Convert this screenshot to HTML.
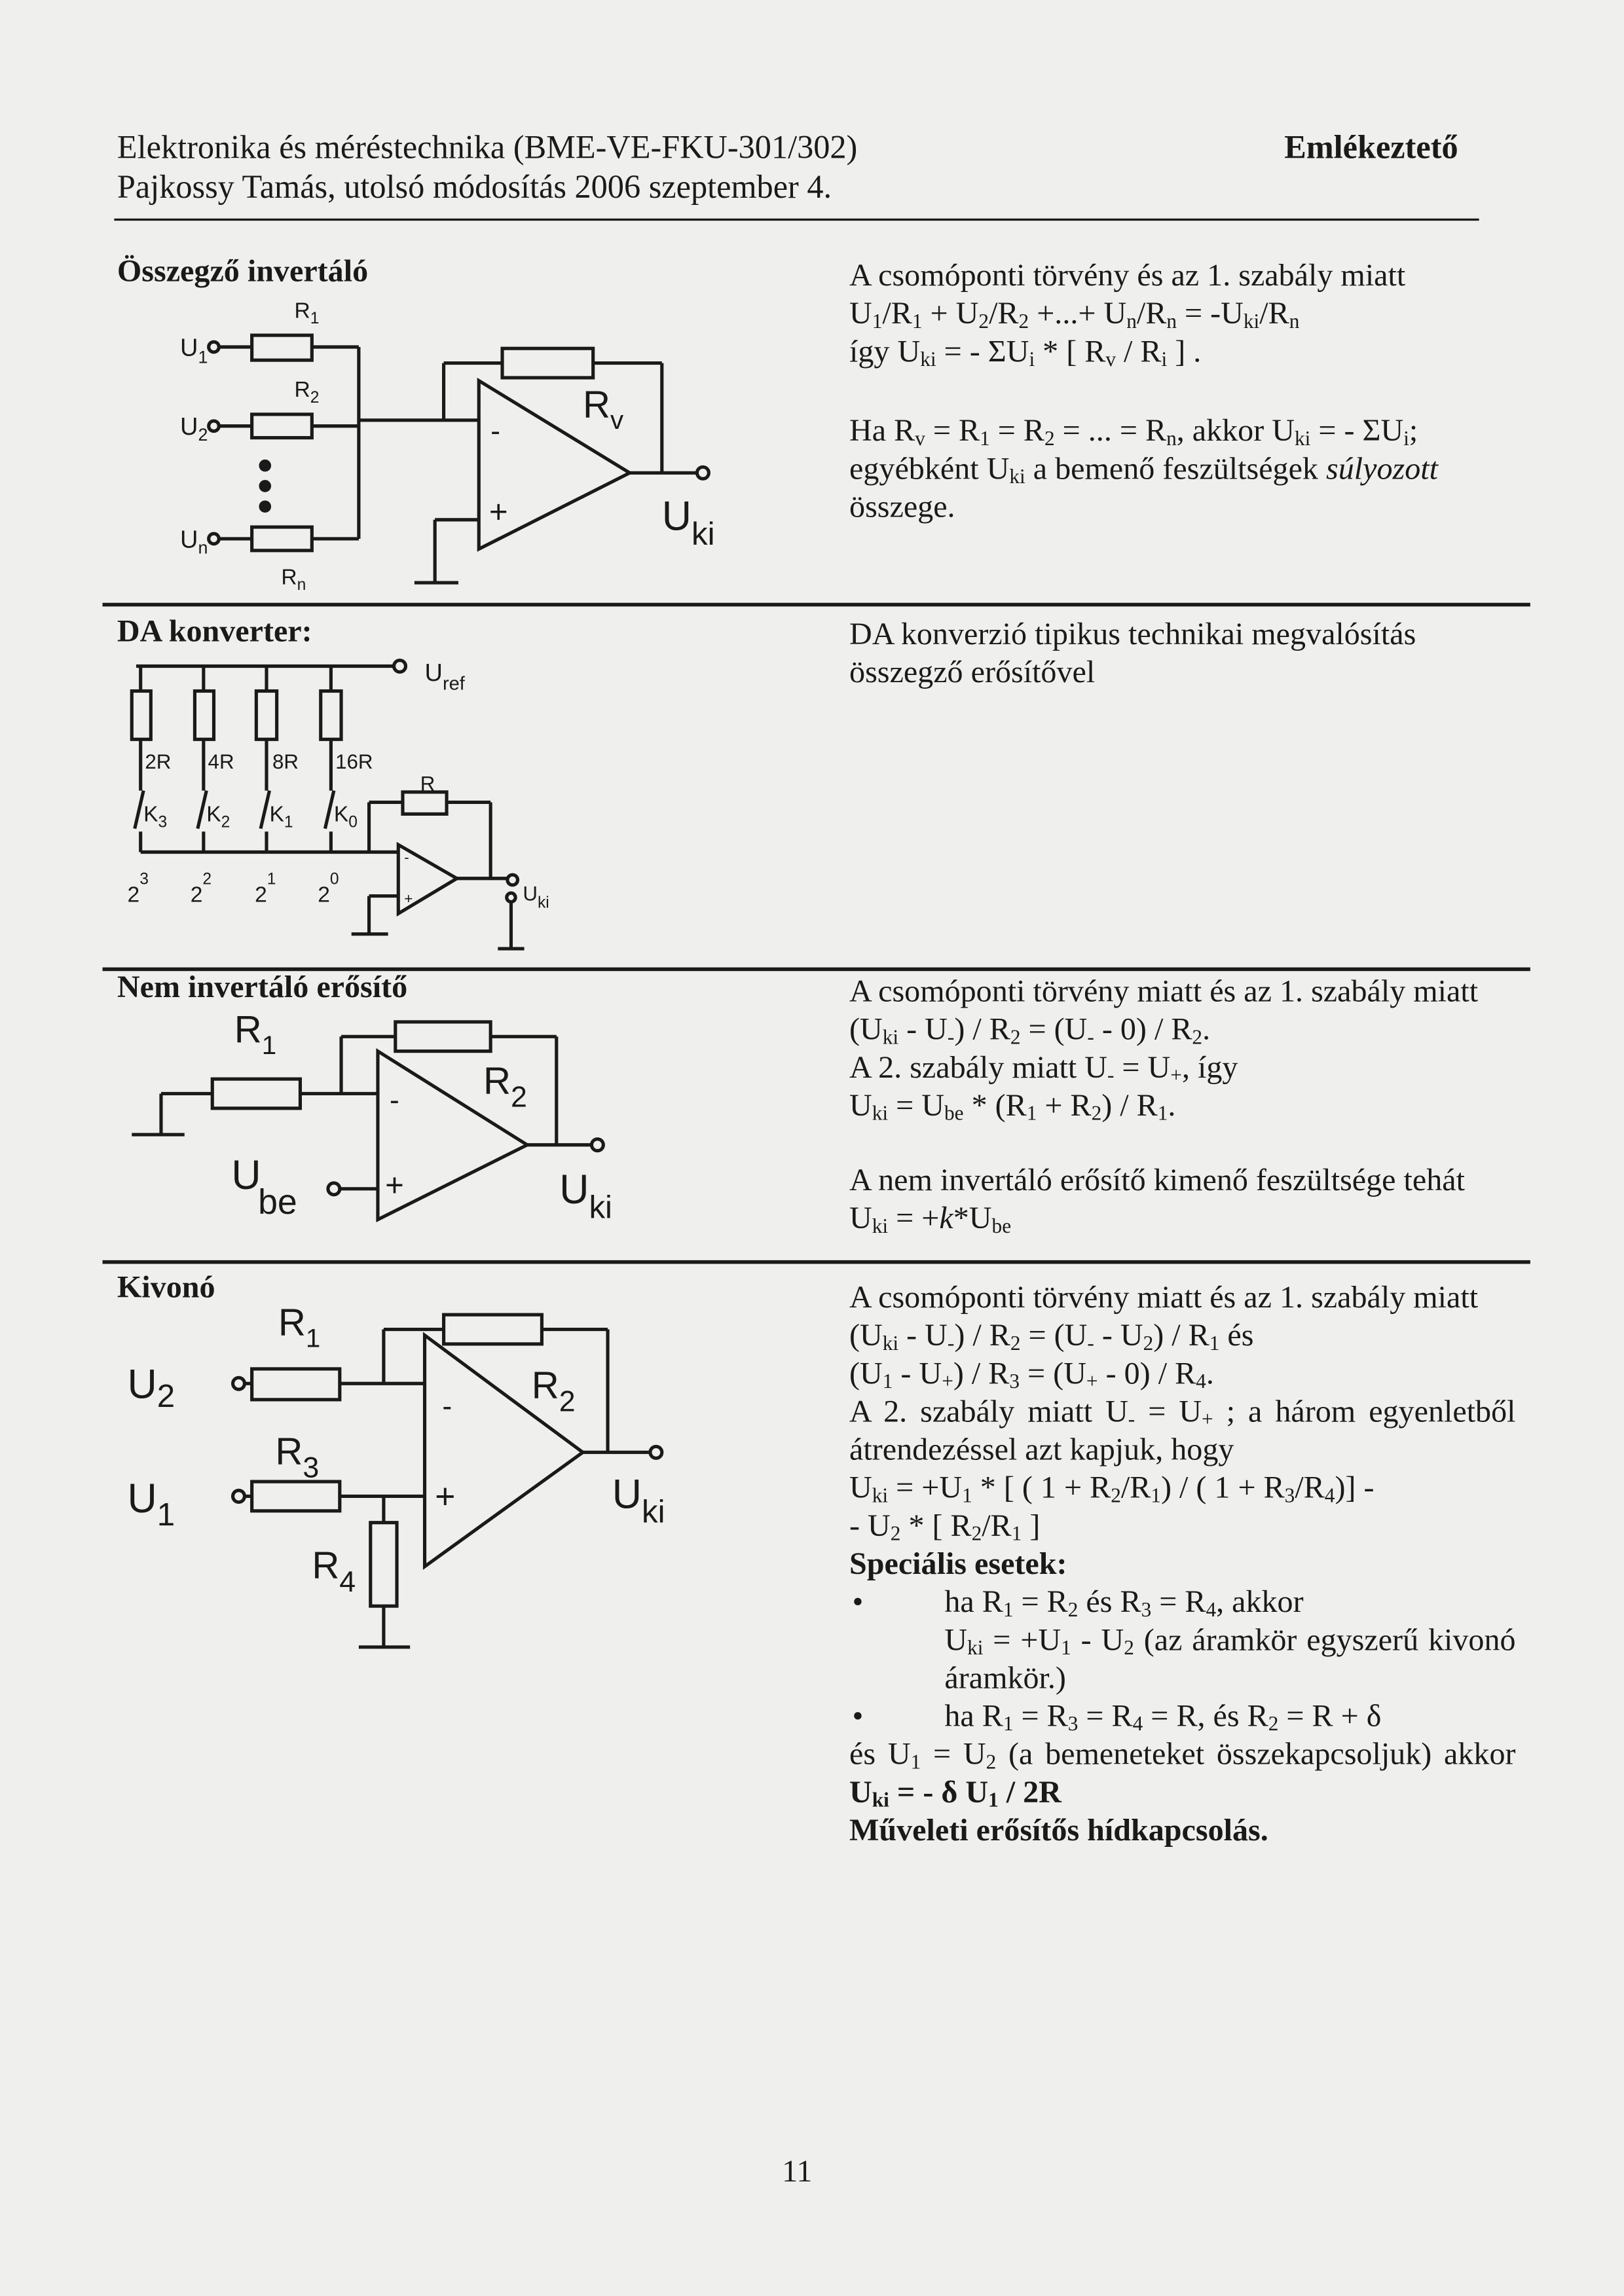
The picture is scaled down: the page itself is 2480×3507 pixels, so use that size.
<!DOCTYPE html>
<html><head><meta charset="utf-8">
<style>
html,body{margin:0;padding:0;background:#efefed;}
#pg{position:relative;width:2480px;height:3507px;overflow:hidden;background:#efefed;}
#c{position:absolute;left:0;top:0;width:1109px;height:1568px;transform:scale(2.23625);transform-origin:0 0;}
.t{position:absolute;font-family:"Liberation Serif",serif;font-size:21.5px;line-height:22px;white-space:nowrap;color:#1a1a1a;}
.t sub{font-size:14px;vertical-align:-3px;line-height:0;}
.b{font-weight:bold;}
.j{text-align:justify;text-align-last:justify;white-space:normal;}
svg{position:absolute;left:0;top:0;}
svg text{font-family:"Liberation Sans",sans-serif;fill:#1a1a1a;}
</style></head><body><div id="pg"><div id="c">

<svg width="1109" height="1568" viewBox="0 0 1109 1568" fill="none" stroke="#1a1a1a" stroke-width="2.3">
<line x1="78" y1="150" x2="1010" y2="150" stroke-width="1.5"/>
<line x1="70" y1="413" x2="1045" y2="413" stroke-width="2.5"/>
<line x1="70" y1="662" x2="1045" y2="662" stroke-width="2.5"/>
<line x1="70" y1="862" x2="1045" y2="862" stroke-width="2.5"/>

<!-- Circuit 1 -->
<circle cx="146" cy="237" r="3.5"/><line x1="150" y1="237" x2="172" y2="237"/>
<rect x="172" y="229" width="41" height="17"/><line x1="213" y1="237" x2="245" y2="237"/>
<circle cx="146" cy="291" r="3.5"/><line x1="150" y1="291" x2="172" y2="291"/>
<rect x="172" y="283" width="41" height="16"/><line x1="213" y1="291" x2="245" y2="291"/>
<circle cx="146" cy="368" r="3.5"/><line x1="150" y1="368" x2="172" y2="368"/>
<rect x="172" y="360" width="41" height="16"/><line x1="213" y1="368" x2="245" y2="368"/>
<line x1="245" y1="237" x2="245" y2="368"/>
<circle cx="181" cy="318" r="3" fill="#1a1a1a"/><circle cx="181" cy="332" r="3" fill="#1a1a1a"/><circle cx="181" cy="346" r="3" fill="#1a1a1a"/>
<line x1="245" y1="287" x2="327" y2="287"/>
<polygon points="327,260 327,375 430,323"/>
<line x1="303" y1="287" x2="303" y2="248"/><line x1="303" y1="248" x2="343" y2="248"/>
<rect x="343" y="238" width="62" height="20"/>
<line x1="405" y1="248" x2="452" y2="248"/><line x1="452" y1="248" x2="452" y2="323"/>
<line x1="430" y1="323" x2="476" y2="323"/><circle cx="480" cy="323" r="4"/>
<line x1="327" y1="355" x2="297" y2="355"/><line x1="297" y1="355" x2="297" y2="398"/>
<line x1="283" y1="398" x2="313" y2="398"/>
<text x="335" y="301" font-size="20" stroke="none">-</text>
<text x="334" y="357" font-size="22" stroke="none">+</text>
<text x="201" y="217" font-size="15" stroke="none">R<tspan font-size="11" dy="4">1</tspan></text>
<text x="201" y="271" font-size="15" stroke="none">R<tspan font-size="11" dy="4">2</tspan></text>
<text x="192" y="399" font-size="15" stroke="none">R<tspan font-size="11" dy="4">n</tspan></text>
<text x="123" y="243" font-size="17" stroke="none">U<tspan font-size="12" dy="5">1</tspan></text>
<text x="123" y="297" font-size="17" stroke="none">U<tspan font-size="12" dy="4">2</tspan></text>
<text x="123" y="374" font-size="17" stroke="none">U<tspan font-size="12" dy="4">n</tspan></text>
<text x="398" y="285" font-size="26" stroke="none">R<tspan font-size="18" dy="8">v</tspan></text>
<text x="452" y="362" font-size="28" stroke="none">U<tspan font-size="22" dy="10">ki</tspan></text>

<!-- DA converter -->
<line x1="93" y1="455" x2="269" y2="455"/><circle cx="273" cy="455" r="4"/>
<g>
<line x1="96" y1="455" x2="96" y2="472"/><rect x="90" y="472" width="13" height="33"/><line x1="96" y1="505" x2="96" y2="540"/>
<line x1="92" y1="566" x2="98" y2="540"/><line x1="96" y1="568" x2="96" y2="582"/>
<line x1="139" y1="455" x2="139" y2="472"/><rect x="133" y="472" width="13" height="33"/><line x1="139" y1="505" x2="139" y2="540"/>
<line x1="135" y1="566" x2="141" y2="540"/><line x1="139" y1="568" x2="139" y2="582"/>
<line x1="182" y1="455" x2="182" y2="472"/><rect x="175" y="472" width="14" height="33"/><line x1="182" y1="505" x2="182" y2="540"/>
<line x1="178" y1="566" x2="184" y2="540"/><line x1="182" y1="568" x2="182" y2="582"/>
<line x1="226" y1="455" x2="226" y2="472"/><rect x="219" y="472" width="14" height="33"/><line x1="226" y1="505" x2="226" y2="540"/>
<line x1="222" y1="566" x2="228" y2="540"/><line x1="226" y1="568" x2="226" y2="582"/>
</g>
<line x1="96" y1="582" x2="272" y2="582"/>
<polygon points="272,577 272,624 312,600"/>
<line x1="252" y1="582" x2="252" y2="548"/><line x1="252" y1="548" x2="275" y2="548"/>
<rect x="275" y="541" width="30" height="15"/>
<line x1="305" y1="548" x2="335" y2="548"/><line x1="335" y1="548" x2="335" y2="600"/>
<line x1="312" y1="600" x2="346" y2="600"/><circle cx="350" cy="601" r="3.5"/>
<circle cx="349" cy="613" r="3"/><line x1="349" y1="616" x2="349" y2="648"/><line x1="340" y1="648" x2="358" y2="648"/>
<line x1="272" y1="612" x2="252" y2="612"/><line x1="252" y1="612" x2="252" y2="638"/><line x1="240" y1="638" x2="265" y2="638"/>
<text x="276" y="589" font-size="10" stroke="none">-</text>
<text x="276" y="617" font-size="10" stroke="none">+</text>
<text x="290" y="465" font-size="17" stroke="none">U<tspan font-size="13" dy="6">ref</tspan></text>
<text x="99" y="525" font-size="14" stroke="none">2R</text>
<text x="142" y="525" font-size="14" stroke="none">4R</text>
<text x="186" y="525" font-size="14" stroke="none">8R</text>
<text x="229" y="525" font-size="14" stroke="none">16R</text>
<text x="287" y="540" font-size="14" stroke="none">R</text>
<text x="98" y="561" font-size="15" stroke="none">K<tspan font-size="11" dy="4">3</tspan></text>
<text x="141" y="561" font-size="15" stroke="none">K<tspan font-size="11" dy="4">2</tspan></text>
<text x="184" y="561" font-size="15" stroke="none">K<tspan font-size="11" dy="4">1</tspan></text>
<text x="228" y="561" font-size="15" stroke="none">K<tspan font-size="11" dy="4">0</tspan></text>
<text x="87" y="616" font-size="15" stroke="none">2<tspan font-size="11" dy="-12">3</tspan></text>
<text x="130" y="616" font-size="15" stroke="none">2<tspan font-size="11" dy="-12">2</tspan></text>
<text x="174" y="616" font-size="15" stroke="none">2<tspan font-size="11" dy="-12">1</tspan></text>
<text x="217" y="616" font-size="15" stroke="none">2<tspan font-size="11" dy="-12">0</tspan></text>
<text x="357" y="615" font-size="14" stroke="none">U<tspan font-size="11" dy="5">ki</tspan></text>

<!-- Non-inverting -->
<line x1="110" y1="747" x2="145" y2="747"/><line x1="110" y1="747" x2="110" y2="775"/><line x1="90" y1="775" x2="126" y2="775"/>
<rect x="145" y="737" width="60" height="20"/>
<line x1="205" y1="747" x2="258" y2="747"/>
<polygon points="258,718 258,833 360,782"/>
<line x1="233" y1="747" x2="233" y2="708"/><line x1="233" y1="708" x2="270" y2="708"/>
<rect x="270" y="698" width="65" height="20"/>
<line x1="335" y1="708" x2="380" y2="708"/><line x1="380" y1="708" x2="380" y2="782"/>
<line x1="360" y1="782" x2="404" y2="782"/><circle cx="408" cy="782" r="4"/>
<circle cx="228" cy="812" r="4"/><line x1="232" y1="812" x2="258" y2="812"/>
<text x="266" y="758" font-size="20" stroke="none">-</text>
<text x="263" y="817" font-size="22" stroke="none">+</text>
<text x="160" y="712" font-size="26" stroke="none">R<tspan font-size="18" dy="8">1</tspan></text>
<text x="330" y="747" font-size="26" stroke="none">R<tspan font-size="20" dy="9">2</tspan></text>
<text x="158" y="812" font-size="28" stroke="none">U<tspan font-size="24" dy="17" dx="-2">be</tspan></text>
<text x="382" y="822" font-size="28" stroke="none">U<tspan font-size="22" dy="10">ki</tspan></text>

<!-- Subtractor -->
<circle cx="163" cy="945" r="4"/><line x1="167" y1="945" x2="172" y2="945"/>
<rect x="172" y="935" width="60" height="21"/><line x1="232" y1="945" x2="290" y2="945"/>
<polygon points="290,912 290,1070 398,992"/>
<line x1="262" y1="945" x2="262" y2="908"/><line x1="262" y1="908" x2="303" y2="908"/>
<rect x="303" y="898" width="67" height="20"/>
<line x1="370" y1="908" x2="415" y2="908"/><line x1="415" y1="908" x2="415" y2="992"/>
<line x1="398" y1="992" x2="444" y2="992"/><circle cx="448" cy="992" r="4"/>
<circle cx="163" cy="1022" r="4"/><line x1="167" y1="1022" x2="172" y2="1022"/>
<rect x="172" y="1012" width="60" height="20"/><line x1="232" y1="1022" x2="290" y2="1022"/>
<line x1="262" y1="1022" x2="262" y2="1040"/>
<rect x="253" y="1040" width="18" height="57"/>
<line x1="262" y1="1097" x2="262" y2="1125"/><line x1="245" y1="1125" x2="280" y2="1125"/>
<text x="302" y="967" font-size="20" stroke="none">-</text>
<text x="297" y="1030" font-size="24" stroke="none">+</text>
<text x="190" y="912" font-size="26" stroke="none">R<tspan font-size="18" dy="8">1</tspan></text>
<text x="363" y="955" font-size="26" stroke="none">R<tspan font-size="20" dy="9">2</tspan></text>
<text x="188" y="1000" font-size="26" stroke="none">R<tspan font-size="20" dy="9">3</tspan></text>
<text x="213" y="1078" font-size="26" stroke="none">R<tspan font-size="20" dy="9">4</tspan></text>
<text x="87" y="955" font-size="28" stroke="none">U<tspan font-size="22" dy="6">2</tspan></text>
<text x="87" y="1033" font-size="28" stroke="none">U<tspan font-size="22" dy="9">1</tspan></text>
<text x="418" y="1030" font-size="28" stroke="none">U<tspan font-size="22" dy="10">ki</tspan></text>
</svg>

<!-- Header -->
<div class="t" style="left:80px;top:90px;font-size:22.5px;">Elektronika és méréstechnika (BME-VE-FKU-301/302)</div>
<div class="t" style="left:80px;top:117px;font-size:22.5px;">Pajkossy Tamás, utolsó módosítás 2006 szeptember 4.</div>
<div class="t b" style="left:877px;top:90px;font-size:22.5px;">Emlékeztető</div>

<!-- Section 1 -->
<div class="t b" style="left:80px;top:174px;">Összegző invertáló</div>
<div class="t" style="left:580px;top:177px;">A csomóponti törvény és az 1. szabály miatt</div>
<div class="t" style="left:580px;top:203px;">U<sub>1</sub>/R<sub>1</sub> + U<sub>2</sub>/R<sub>2</sub> +...+ U<sub>n</sub>/R<sub>n</sub> = -U<sub>ki</sub>/R<sub>n</sub></div>
<div class="t" style="left:580px;top:229px;">így U<sub>ki</sub> = - ΣU<sub>i</sub> * [ R<sub>v</sub> / R<sub>i</sub> ] .</div>
<div class="t" style="left:580px;top:283px;">Ha R<sub>v</sub> = R<sub>1</sub> = R<sub>2</sub> = ... = R<sub>n</sub>, akkor U<sub>ki</sub> = - ΣU<sub>i</sub>;</div>
<div class="t" style="left:580px;top:309px;">egyébként U<sub>ki</sub> a bemenő feszültségek <i>súlyozott</i></div>
<div class="t" style="left:580px;top:335px;">összege.</div>

<!-- Section 2 -->
<div class="t b" style="left:80px;top:420px;">DA konverter:</div>
<div class="t" style="left:580px;top:422px;">DA konverzió tipikus technikai megvalósítás</div>
<div class="t" style="left:580px;top:448px;">összegző erősítővel</div>

<!-- Section 3 -->
<div class="t b" style="left:80px;top:663px;">Nem invertáló erősítő</div>
<div class="t" style="left:580px;top:666px;">A csomóponti törvény miatt és az 1. szabály miatt</div>
<div class="t" style="left:580px;top:692px;">(U<sub>ki</sub> - U<sub>-</sub>) / R<sub>2</sub> = (U<sub>-</sub> - 0) / R<sub>2</sub>.</div>
<div class="t" style="left:580px;top:718px;">A 2. szabály miatt U<sub>-</sub> = U<sub>+</sub>, így</div>
<div class="t" style="left:580px;top:744px;">U<sub>ki</sub> = U<sub>be</sub> * (R<sub>1</sub> + R<sub>2</sub>) / R<sub>1</sub>.</div>
<div class="t" style="left:580px;top:795px;">A nem invertáló erősítő kimenő feszültsége tehát</div>
<div class="t" style="left:580px;top:821px;">U<sub>ki</sub> = +<i>k</i>*U<sub>be</sub></div>

<!-- Section 4 -->
<div class="t b" style="left:80px;top:868px;">Kivonó</div>
<div class="t" style="left:580px;top:875px;">A csomóponti törvény miatt és az 1. szabály miatt</div>
<div class="t" style="left:580px;top:901px;">(U<sub>ki</sub> - U<sub>-</sub>) / R<sub>2</sub> = (U<sub>-</sub> - U<sub>2</sub>) / R<sub>1</sub> és</div>
<div class="t" style="left:580px;top:927px;">(U<sub>1</sub> - U<sub>+</sub>) / R<sub>3</sub> = (U<sub>+</sub> - 0) / R<sub>4</sub>.</div>
<div class="t j" style="left:580px;top:953px;width:455px;">A 2. szabály miatt U<sub>-</sub> = U<sub>+</sub> ; a három egyenletből</div>
<div class="t" style="left:580px;top:979px;">átrendezéssel azt kapjuk, hogy</div>
<div class="t" style="left:580px;top:1005px;">U<sub>ki</sub> = +U<sub>1</sub> * [ ( 1 + R<sub>2</sub>/R<sub>1</sub>) / ( 1 + R<sub>3</sub>/R<sub>4</sub>)] -</div>
<div class="t" style="left:580px;top:1031px;">- U<sub>2</sub> * [ R<sub>2</sub>/R<sub>1</sub> ]</div>
<div class="t b" style="left:580px;top:1057px;">Speciális esetek:</div>
<div class="t" style="left:582px;top:1083px;">•</div>
<div class="t" style="left:645px;top:1083px;">ha R<sub>1</sub> = R<sub>2</sub> és R<sub>3</sub> = R<sub>4</sub>, akkor</div>
<div class="t j" style="left:645px;top:1109px;width:390px;">U<sub>ki</sub> = +U<sub>1</sub> - U<sub>2</sub> (az áramkör egyszerű kivonó</div>
<div class="t" style="left:645px;top:1135px;">áramkör.)</div>
<div class="t" style="left:582px;top:1161px;">•</div>
<div class="t" style="left:645px;top:1161px;">ha R<sub>1</sub> = R<sub>3</sub> = R<sub>4</sub> = R, és R<sub>2</sub> = R + δ</div>
<div class="t j" style="left:580px;top:1187px;width:455px;">és U<sub>1</sub> = U<sub>2</sub> (a bemeneteket összekapcsoljuk) akkor</div>
<div class="t b" style="left:580px;top:1213px;">U<sub>ki</sub> = - δ U<sub>1</sub> / 2R</div>
<div class="t b" style="left:580px;top:1239px;">Műveleti erősítős hídkapcsolás.</div>

<div class="t" style="left:534px;top:1472px;">11</div>
</div></div></body></html>
